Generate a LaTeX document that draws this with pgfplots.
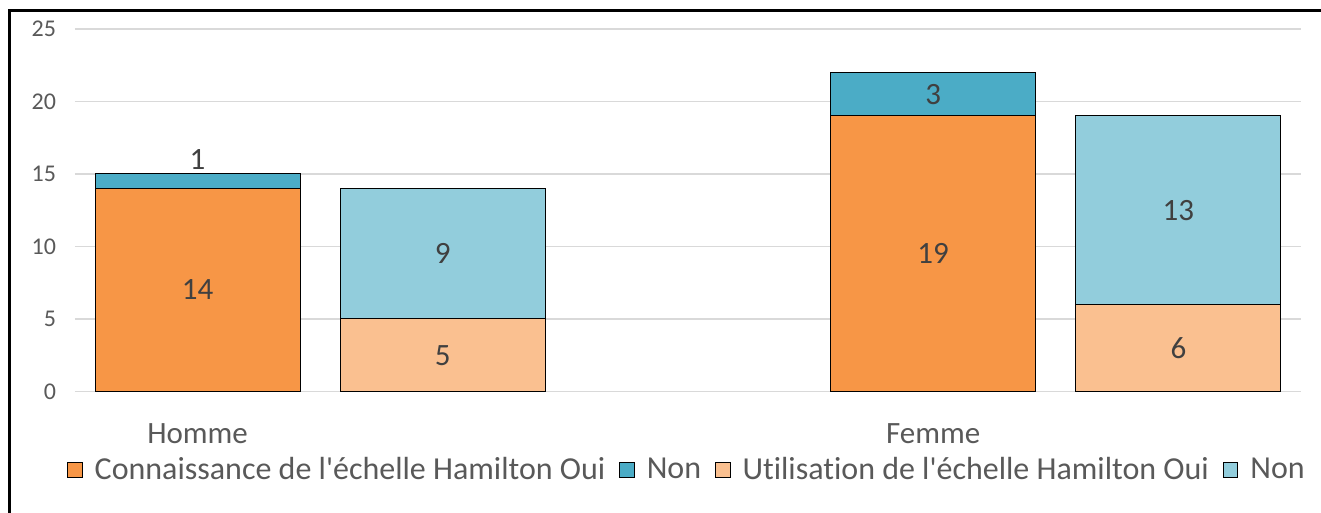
\documentclass[border=0pt]{standalone}
\usepackage{pgfplots}
\pgfplotsset{compat=1.18}
\usepackage{pgfplotstable}
\usepackage{fontspec}
\setmainfont{Carlito}[Ligatures={NoCommon}]

\definecolor{orangeA}{HTML}{F79646}
\definecolor{tealA}{HTML}{4BACC6}
\definecolor{orangeB}{HTML}{FAC090}
\definecolor{blueB}{HTML}{92CDDC}
\definecolor{gridgray}{HTML}{D9D9D9}
\definecolor{textgray}{HTML}{595959}
\definecolor{labelgray}{HTML}{404040}

% bar positions: 0 Homme/connaissance, 1 Homme/utilisation, 3 Femme/connaissance, 4 Femme/utilisation
% labels sit in the middle of their segment; off moves one up (in y units)
\pgfplotstableread{
x y lab off
0 14 14 0
1 0 {} 0
3 19 19 0
4 0 {} 0
}\connoui
\pgfplotstableread{
x y lab off
0 1 1 1.47
1 0 {} 0
3 3 3 0
4 0 {} 0
}\connnon
\pgfplotstableread{
x y lab off
0 0 {} 0
1 5 5 0
3 0 {} 0
4 6 6 0
}\utiloui
\pgfplotstableread{
x y lab off
0 0 {} 0
1 9 9 0
3 0 {} 0
4 13 13 0
}\utilnon

\begin{document}
\begin{tikzpicture}
\useasboundingbox (-37.5pt,-60.75pt) rectangle (623pt,195.75pt);
\begin{axis}[
    scale only axis,
    width=613pt, height=181.25pt,
    ybar stacked,
    bar width=102.5pt,
    xmin=-0.5, xmax=4.5,
    ymin=0, ymax=25,
    ytick={0,5,...,25},
    xtick={0,3},
    xticklabels={Homme,Femme},
    axis line style={draw=none},
    major tick length=0pt,
    ymajorgrids=true,
    grid style={gridgray, line width=0.8pt},
    /pgf/number format/assume math mode=true,
    yticklabel style={font=\fontsize{12}{12}\selectfont, text=textgray, xshift=-6pt},
    xticklabel style={font=\fontsize{15.5}{15.5}\selectfont, text=textgray, yshift=-12.5pt},
    every axis plot/.append style={draw=black, line width=0.5pt},
    point meta=explicit symbolic,
    visualization depends on={\thisrow{off} \as \off},
    nodes near coords,
    nodes near coords align=center,
    every node near coord/.append style={anchor=center, font=\fontsize{15.5}{15.5}\selectfont,
        text=labelgray, yshift={\off*7.25pt}},
    legend style={at={(0.5,-0.216)}, anchor=center, draw=none, fill=none,
        legend columns=4, font=\fontsize{16}{16}\selectfont, text=textgray,
        /tikz/every odd column/.append style={column sep=4pt},
        /tikz/every even column/.append style={column sep=5pt}},
    legend image code/.code={\draw[#1] (0pt,-3.6pt) rectangle (7.2pt,3.6pt);},
]
\addplot[fill=orangeA] table[x=x, y=y, meta=lab] {\connoui};
\addlegendentry{Connaissance de l\textquotesingle échelle Hamilton Oui}
\addplot[fill=tealA] table[x=x, y=y, meta=lab] {\connnon};
\addlegendentry{Non}
\addplot[fill=orangeB] table[x=x, y=y, meta=lab] {\utiloui};
\addlegendentry{Utilisation de l\textquotesingle échelle Hamilton Oui}
\addplot[fill=blueB] table[x=x, y=y, meta=lab] {\utilnon};
\addlegendentry{Non}
\end{axis}
\draw[line width=1.2pt] (-32.75pt,-70pt) -- (-32.75pt,190.5pt) -- (640pt,190.5pt);
\end{tikzpicture}
\end{document}
